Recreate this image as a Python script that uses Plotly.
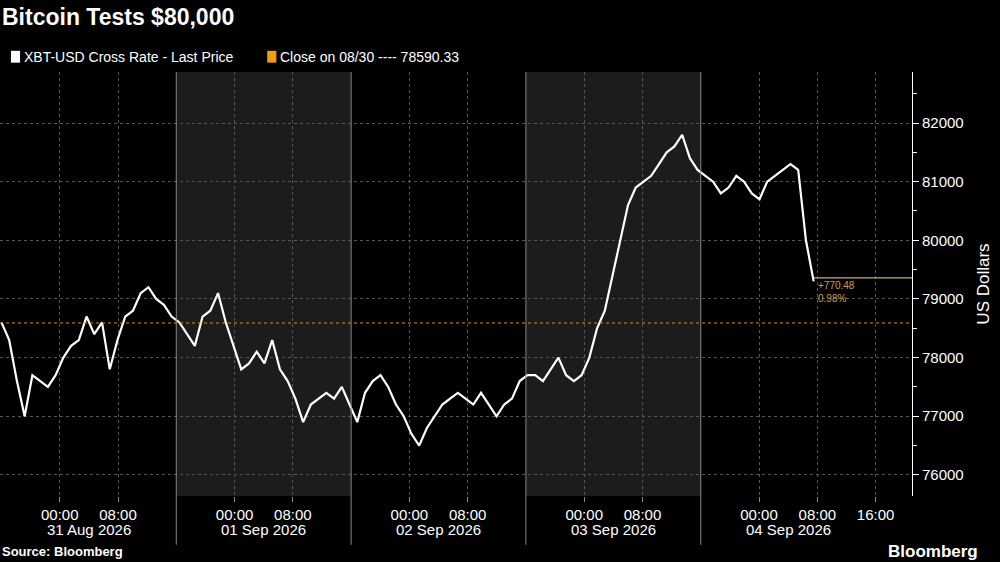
import plotly.graph_objects as go

closes = [78600,78300,77600,77000,77700,77600,77500,77700,78000,78200,78300,78700,78400,78600,77800,78300,
78700,78800,79100,79200,79000,78900,78700,78600,78400,78200,78700,78800,79100,78600,78200,77800,77900,78100,
77900,78300,77800,77600,77300,76900,77200,77300,77400,77300,77500,77200,76900,77400,77600,77700,77500,77200,
77000,76700,76500,76800,77000,77200,77300,77400,77300,77200,77400,77200,77000,77200,77300,77600,77700,77700,
77600,77800,78000,77700,77600,77700,78000,78500,78800,79400,80000,80600,80900,81000,81100,81300,81500,81600,
81800,81400,81200,81100,81000,80800,80900,81100,81000,80800,80700,81000,81100,81200,81300,81200,80000,79300]
start_hour, end_hour = -8.0, 103.5
step = (end_hour - start_hour) / (len(closes) - 1)
hours = [start_hour + i * step for i in range(len(closes))]
prev_close = 78590.33
last_price = prev_close + 770.48
day_labels = ["31 Aug 2026", "01 Sep 2026", "02 Sep 2026", "03 Sep 2026", "04 Sep 2026"]
tick_hours = [0, 8, 24, 32, 48, 56, 72, 80, 96, 104, 112]
tick_text = ["00:00", "08:00"] * 5 + ["16:00"]
yticks = [76000, 77000, 78000, 79000, 80000, 81000, 82000]

F = "Liberation Sans Narrow, Arial Narrow, Liberation Sans, sans-serif"
fig = go.Figure()
fig.add_trace(go.Scatter(x=hours, y=closes, mode="lines", line=dict(color="white", width=2.2), showlegend=False))
fig.add_trace(go.Scatter(x=[hours[-1], 117], y=[last_price]*2, mode="lines", line=dict(color="#c8a878", width=1.2), showlegend=False))

shapes = []
for d in [1, 3]:
    shapes.append(dict(type="rect", xref="x", yref="paper", x0=-8+24*d, x1=16+24*d, y0=0, y1=1,
                       fillcolor="#1c1c1c", line_width=0, layer="below"))
for d in range(4):
    xv = 16 + 24*d
    shapes.append(dict(type="line", xref="x", yref="paper", x0=xv, x1=xv, y0=1, y1=-0.115, line=dict(color="#888", width=1)))
shapes.append(dict(type="line", xref="paper", yref="y", x0=0, x1=1, y0=prev_close, y1=prev_close,
                   line=dict(color="#e08a1e", width=1, dash="dot")))
shapes.append(dict(type="rect", xref="paper", yref="paper", x0=0.012, x1=0.022, y0=1.022, y1=1.05, fillcolor="white", line_width=0))
shapes.append(dict(type="rect", xref="paper", yref="paper", x0=0.293, x1=0.303, y0=1.022, y1=1.05, fillcolor="#f39c12", line_width=0))
fig.update_layout(shapes=shapes)

for i, lab in enumerate(day_labels):
    fig.add_annotation(x=4+24*i, y=-0.08, xref="x", yref="paper", text=lab, showarrow=False,
                       font=dict(color="white", size=15, family=F), yanchor="middle")
fig.add_annotation(x=hours[-1]+0.3, y=last_price, text="+770.48<br>0.98%", showarrow=False, xanchor="left", yanchor="top",
                   align="left", font=dict(color="#d09a50", size=10, family=F))
fig.add_annotation(x=0, y=1.13, xref="paper", yref="paper", xanchor="left", yanchor="middle", showarrow=False,
                   text="<b>Bitcoin Tests $80,000</b>", font=dict(color="white", size=23, family="Liberation Sans, sans-serif"))
fig.add_annotation(x=0.024, y=1.036, xref="paper", yref="paper", xanchor="left", yanchor="middle", showarrow=False,
                   text="XBT-USD Cross Rate - Last Price", font=dict(color="white", size=14, family=F))
fig.add_annotation(x=0.305, y=1.036, xref="paper", yref="paper", xanchor="left", yanchor="middle", showarrow=False,
                   text="Close on 08/30 ---- 78590.33", font=dict(color="white", size=14, family=F))
fig.add_annotation(x=0, y=-0.13, xref="paper", yref="paper", xanchor="left", yanchor="middle", showarrow=False,
                   text="<b>Source: Bloomberg</b>", font=dict(color="white", size=13, family=F))
fig.add_annotation(x=1.075, y=-0.13, xref="paper", yref="paper", xanchor="right", yanchor="middle", showarrow=False,
                   text="<b>Bloomberg</b>", font=dict(color="white", size=17, family=F))

fig.update_layout(
    width=1000, height=562, paper_bgcolor="black", plot_bgcolor="black",
    margin=dict(l=0, r=88, t=72, b=66),
    xaxis=dict(range=[-8.2, 117], tickvals=tick_hours, ticktext=tick_text, showgrid=True,
               gridcolor="#555", griddash="dot", gridwidth=1, zeroline=False, ticks="outside", ticklen=5,
               tickcolor="#888", tickfont=dict(color="white", size=15, family=F), showline=False),
    yaxis=dict(side="right", range=[75640, 82870], tickvals=yticks, tickformat="d", showgrid=True, gridcolor="#555", griddash="dot",
               zeroline=False, ticks="outside", ticklen=6, tickcolor="white", showline=True, linecolor="white",
               tickfont=dict(color="white", size=15, family=F), automargin=False,
               title=dict(text="US Dollars", font=dict(color="white", size=17, family=F), standoff=14),
               minor=dict(tickvals=[75500+1000*i for i in range(8)], ticks="outside", ticklen=4, tickcolor="white")),
)
fig.write_html("out.html", config={"displayModeBar": False},
               post_script="document.body.style.margin='0';document.body.style.background='black';")
